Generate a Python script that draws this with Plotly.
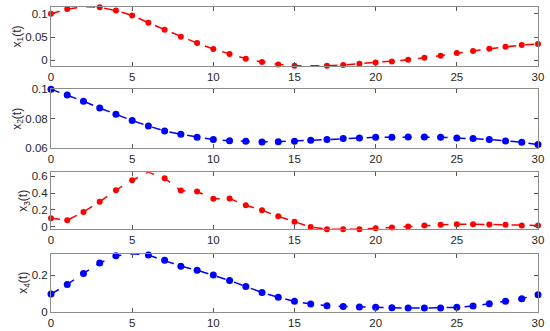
import plotly.graph_objects as go

t = list(range(31))
x1 = [0.100, 0.110, 0.115, 0.114, 0.107, 0.0964, 0.0807, 0.0657, 0.0507, 0.0371,
      0.0243, 0.0136, 0.0036, -0.0036, -0.0086, -0.0114, -0.0121, -0.0114, -0.0100, -0.0071,
      -0.0043, -0.0021, 0.0014, 0.0057, 0.0100, 0.0157, 0.0200, 0.0250, 0.0293, 0.0329, 0.0350]
x2 = [0.1000, 0.0962, 0.0919, 0.0873, 0.0830, 0.0788, 0.0751, 0.0718, 0.0695, 0.0675,
      0.0659, 0.0652, 0.0647, 0.0643, 0.0645, 0.0647, 0.0654, 0.0659, 0.0666, 0.0670,
      0.0675, 0.0675, 0.0677, 0.0677, 0.0675, 0.0670, 0.0666, 0.0659, 0.0650, 0.0641, 0.0625]
x3 = [0.102, 0.078, 0.176, 0.298, 0.435, 0.553, 0.650, 0.576, 0.431, 0.420,
      0.333, 0.337, 0.255, 0.196, 0.125, 0.059, -0.004, -0.028, -0.030, -0.028,
      -0.018, -0.008, 0.004, 0.016, 0.024, 0.031, 0.031, 0.027, 0.024, 0.016, 0.016]
x4 = [0.097, 0.150, 0.211, 0.268, 0.308, 0.319, 0.312, 0.283, 0.251, 0.229,
      0.202, 0.172, 0.139, 0.106, 0.079, 0.057, 0.042, 0.033, 0.029, 0.026,
      0.024, 0.022, 0.020, 0.020, 0.020, 0.024, 0.031, 0.044, 0.057, 0.072, 0.094]

series = [x1, x2, x3, x4]
names = ["x<sub>1</sub>(t)", "x<sub>2</sub>(t)", "x<sub>3</sub>(t)", "x<sub>4</sub>(t)"]
colors = ["#ff0000", "#0000ff", "#ff0000", "#0000ff"]
yranges = [[-0.012, 0.1145], [0.06, 0.1], [-0.03, 0.648], [0, 0.318]]
ytickvals = [[0, 0.05, 0.1], [0.06, 0.08, 0.1], [0, 0.2, 0.4, 0.6], [0, 0.2]]
yticktext = [["0", "0.05", "0.1"], ["0.06", "0.08", "0.1"], ["0", "0.2", "0.4", "0.6"], ["0", "0.2"]]
xticks = [0, 5, 10, 15, 20, 25, 30]

H = 331
panels_px = [(7, 66), (89.3, 148.3), (172.3, 229.3), (254, 311.7)]

fig = go.Figure()
font = dict(family="Liberation Sans, Arial, sans-serif", size=11.5, color="#262626")
tfont = dict(family="Liberation Sans, Arial, sans-serif", size=12, color="#262626")
layout = dict(
    width=550, height=331, margin=dict(l=51, r=12, t=0, b=0),
    paper_bgcolor="white", plot_bgcolor="white", showlegend=False, font=font,
)
for i, (y, c) in enumerate(zip(series, colors)):
    k = "" if i == 0 else str(i + 1)
    fig.add_trace(go.Scatter(
        x=t, y=y, mode="lines+markers", xaxis="x" + k, yaxis="y" + k,
        line=dict(color=c, width=1.5, dash="dash"),
        marker=dict(color=c, size=6 if c == "#ff0000" else 7, symbol="circle"),
        cliponaxis=False,
    ))
    top, bot = panels_px[i]
    dom = [1 - bot / H, 1 - top / H]
    axcommon = dict(showline=True, linecolor="#8c8c8c", linewidth=1, mirror="ticks",
                    ticks="inside", ticklen=4, tickcolor="#555", showgrid=False,
                    zeroline=False, tickfont=font, automargin=False)
    layout["xaxis" + k] = dict(axcommon, domain=[0, 1], range=[0, 30], tickvals=xticks,
                               anchor="y" + k)
    layout["yaxis" + k] = dict(axcommon, domain=dom, range=yranges[i],
                               tickvals=ytickvals[i], ticktext=yticktext[i],
                               anchor="x" + k,
                               title=dict(text=names[i], font=tfont, standoff=0))
fig.update_layout(**layout)
fig.write_html("out.html", config={"displayModeBar": False},
               post_script="document.body.style.margin='0';document.body.style.overflow='hidden';")
